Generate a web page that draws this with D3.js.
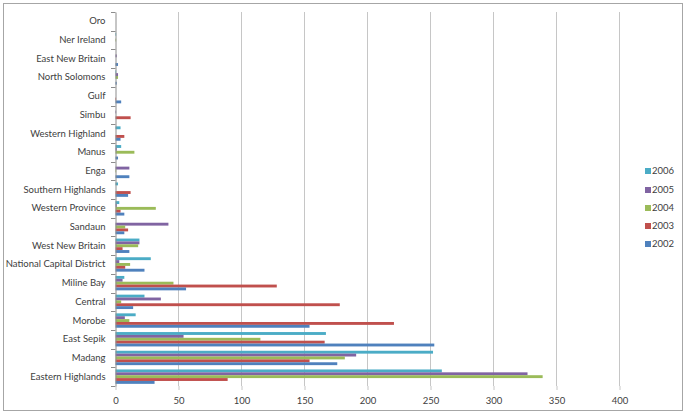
<!DOCTYPE html>
<html>
<head>
<meta charset="utf-8">
<script src="https://cdn.jsdelivr.net/npm/d3@7"></script>
<style>
  html, body { margin: 0; padding: 0; background: #fff; }
  svg { display: block; font-family: Lato, "Liberation Sans", sans-serif; }
</style>
</head>
<body>
<svg id="chart" width="685" height="414"></svg>
<script>
// Categories, top to bottom as drawn
const categories = ["Oro", "Ner Ireland", "East New Britain", "North Solomons", "Gulf", "Simbu",
  "Western Highland", "Manus", "Enga", "Southern Highlands", "Western Province", "Sandaun",
  "West New Britain", "National Capital District", "Miline Bay", "Central", "Morobe",
  "East Sepik", "Madang", "Eastern Highlands"];

const years = ["2006", "2005", "2004", "2003", "2002"];
const colors = ["#4BACC6", "#8064A2", "#9BBB59", "#C0504D", "#4F81BD"];

// series values, one per category (same order as categories)
const v2002 = [0, 0, 2, 1, 4.5, 0, 4, 2, 11, 10, 7, 7, 11, 23, 56, 14, 154, 253, 176, 31];
const v2003 = [0, 0, 0, 0, 0.5, 12, 7, 0, 0, 12, 4, 10, 5.6, 7.7, 128, 178, 221, 166, 154, 89];
const v2004 = [0, 0.5, 0, 2, 0, 0, 0, 15, 0.5, 0, 32, 7.7, 18, 11.6, 46, 4.5, 11, 115, 182, 339];
const v2005 = [0, 0, 1, 2, 0, 0.5, 0, 1, 11, 0, 1, 42, 19, 3, 5.6, 36, 7.4, 54, 191, 327];
const v2006 = [0, 0.5, 0, 0.5, 0, 0, 4, 4.5, 0, 2, 3, 0, 19, 28, 7, 23, 16, 167, 252, 259];
const seriesValues = { "2006": v2006, "2005": v2005, "2004": v2004, "2003": v2003, "2002": v2002 };

const xTicks = [0, 50, 100, 150, 200, 250, 300, 350, 400];

const svg = d3.select("#chart");

// outer frame
svg.append("rect").attr("x", 3.5).attr("y", 3.5).attr("width", 679).attr("height", 407)
  .attr("fill", "#fff").attr("stroke", "#a6a6a6").attr("stroke-width", 1);

const pLeft = 115, pRight = 619, pTop = 12, pBottom = 386;

const x = d3.scaleLinear().domain([0, 400]).range([pLeft, pRight]);
const y = d3.scaleBand().domain(categories).range([pTop, pBottom]);
const yInner = d3.scaleBand().domain(years).range([0, y.bandwidth()]).paddingOuter(0.75).paddingInner(0);

// gridlines
svg.append("g").selectAll("line").data(xTicks.filter(t => t > 0)).join("line")
  .attr("x1", d => Math.round(x(d)) + 0.5).attr("x2", d => Math.round(x(d)) + 0.5)
  .attr("y1", pTop).attr("y2", pBottom)
  .attr("stroke", "#c6c6c6").attr("stroke-width", 1);

// bars
const groups = svg.append("g").selectAll("g").data(categories).join("g")
  .attr("transform", d => `translate(0,${y(d)})`);
groups.each(function(cat, ci) {
  d3.select(this).selectAll("rect").data(years).join("rect")
    .attr("x", x(0) + 0.5)
    .attr("y", yr => yInner(yr))
    .attr("height", yInner.bandwidth())
    .attr("width", yr => Math.max(0, x(seriesValues[yr][ci]) - x(0)))
    .attr("fill", (yr, i) => colors[i]);
});

// category axis
const yAxis = d3.axisLeft(y).tickSize(0).tickPadding(10);
const ya = svg.append("g").attr("transform", `translate(${pLeft + 0.5},0)`).call(yAxis);
ya.select(".domain").attr("stroke", "#8c8c8c");
ya.selectAll("text").attr("font-size", "9.5px").attr("fill", "#404040")
  .attr("font-family", "Lato, 'Liberation Sans', sans-serif");
// category separator ticks
svg.append("g").selectAll("line").data(d3.range(categories.length + 1)).join("line")
  .attr("x1", pLeft - 4).attr("x2", pLeft + 0.5)
  .attr("y1", i => Math.round(pTop + i * y.step()) + 0.5)
  .attr("y2", i => Math.round(pTop + i * y.step()) + 0.5)
  .attr("stroke", "#8c8c8c");

// value axis labels
const xAxis = d3.axisBottom(x).tickValues(xTicks).tickSize(4).tickPadding(7);
const xa = svg.append("g").attr("transform", `translate(0.5,${pBottom})`).call(xAxis);
xa.select(".domain").remove();
xa.selectAll("line").attr("stroke", "#c6c6c6");
xa.selectAll("text").attr("font-size", "9.5px").attr("fill", "#404040")
  .attr("font-family", "Lato, 'Liberation Sans', sans-serif");

// legend
const legend = svg.append("g").attr("transform", "translate(645,0)");
const legY = [171, 190, 208, 226, 244];
years.forEach((yr, i) => {
  legend.append("rect").attr("x", 0).attr("y", legY[i] - 3).attr("width", 6).attr("height", 6)
    .attr("fill", colors[i]);
  legend.append("text").attr("x", 7).attr("y", legY[i]).attr("dy", "0.35em")
    .attr("font-size", "9.5px").attr("fill", "#404040").text(yr);
});
</script>
</body>
</html>
